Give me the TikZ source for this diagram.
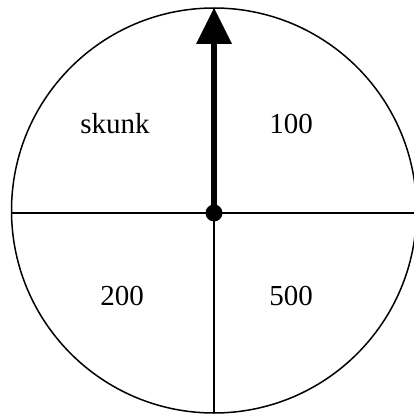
\documentclass[tikz,border=0pt]{standalone}
\usepackage{fontspec}
\setmainfont{Liberation Serif}
\begin{document}
\begin{tikzpicture}[x=1pt,y=-1pt,
  thinline/.style={line width=1.5pt},
  label/.style={font=\fontsize{29}{32}\selectfont, anchor=base, inner sep=0pt}]
\useasboundingbox (0,0) rectangle (414,414);
\coordinate (c) at (214,213);
\coordinate (l) at (12,213);
\coordinate (r) at (416,213);
\coordinate (t) at (214,9);
\coordinate (b) at (214,413);
\coordinate (hb) at (214,44);
\draw[thinline] (214,210.5) circle[radius=202.5];
\draw[thinline] (l) -- (r);
\draw[thinline] (t) -- (b);
\draw[line width=6pt] (c) -- (hb);
\fill (196,44) -- (232,44) -- (214,8) -- cycle;
\fill (c) circle[radius=8.5];
\node[label] (sk) at (115,134) {skunk};
\node[label] (a) at (291,134) {100};
\node[label] (bb) at (122,305) {200};
\node[label] (d) at (291,305) {500};
\end{tikzpicture}
\end{document}
